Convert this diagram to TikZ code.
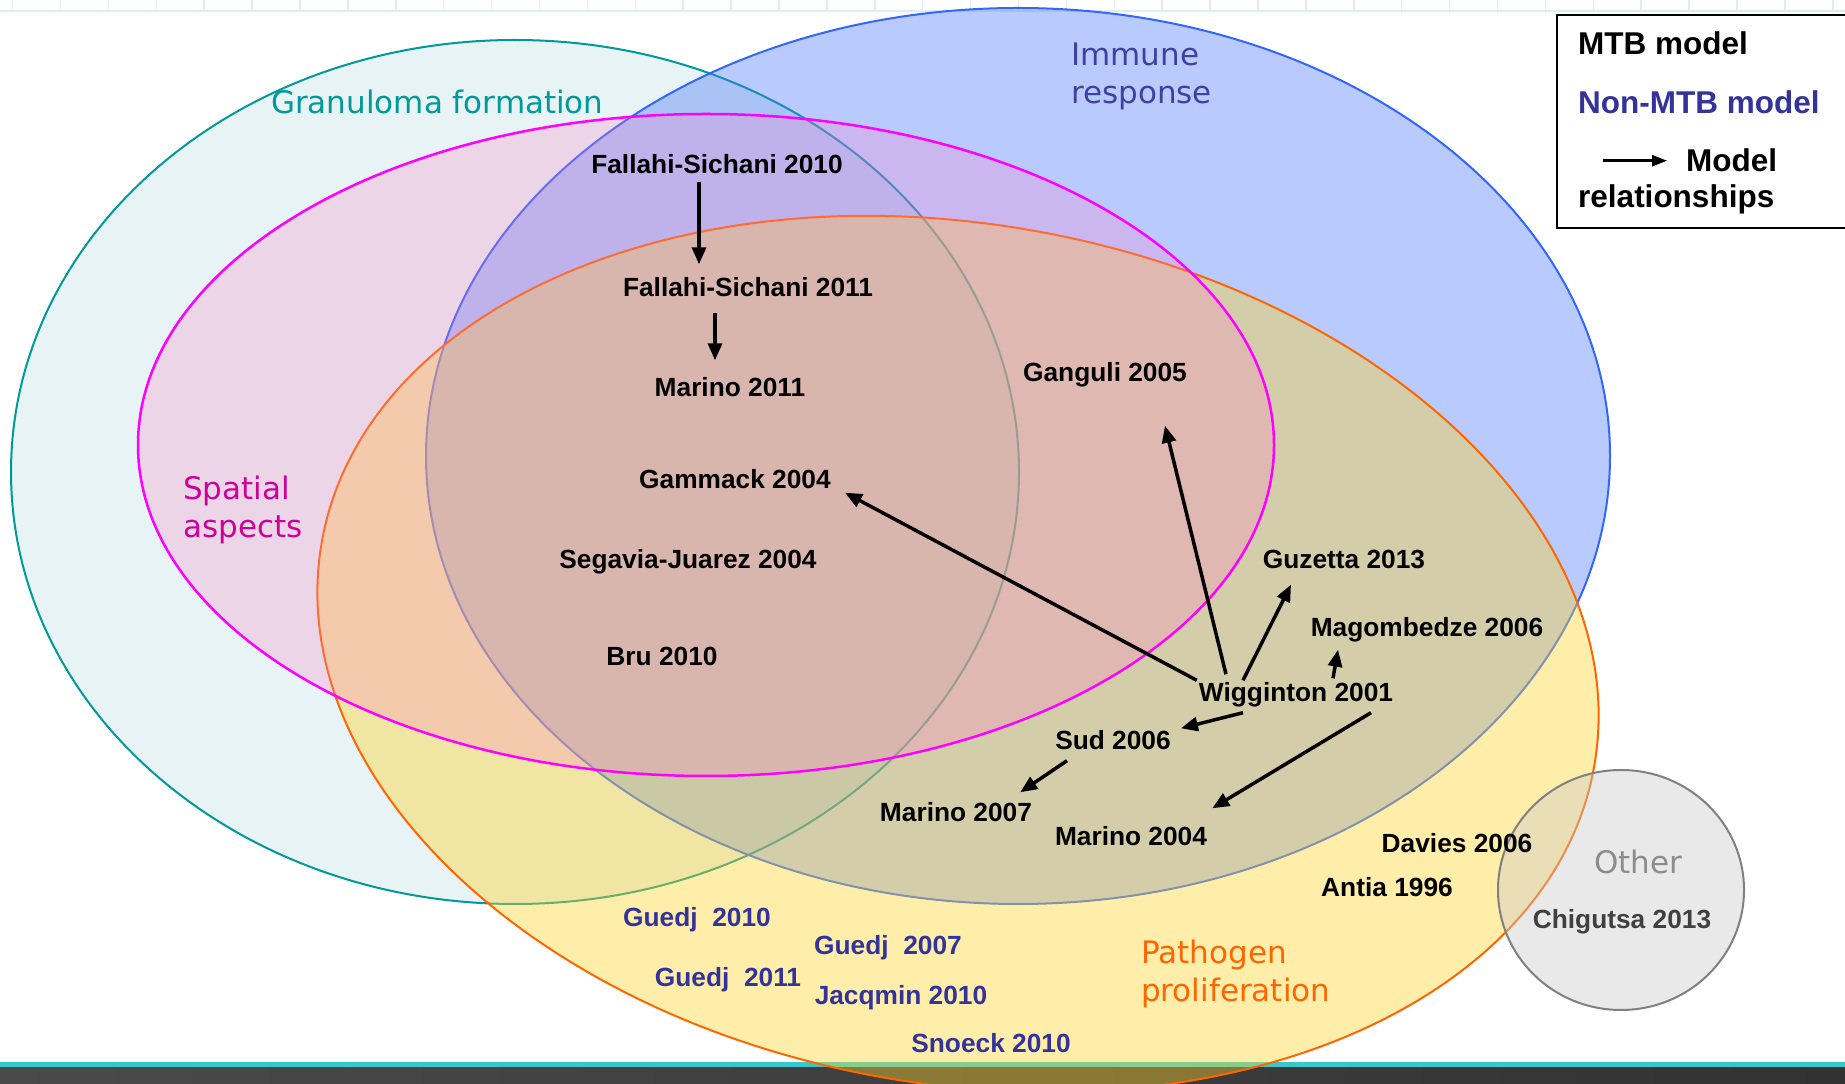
\documentclass[tikz,border=0pt]{standalone}
\usepackage{fontspec}
\setmainfont{Liberation Sans}
\newfontfamily\setfont{DejaVu Sans}
\usetikzlibrary{arrows.meta}

\definecolor{granline}{RGB}{0,153,153}
\definecolor{granfill}{RGB}{231,243,244}
\definecolor{immline}{RGB}{51,102,255}
\definecolor{immfill}{RGB}{68,116,252}
\definecolor{immtext}{RGB}{64,64,160}
\definecolor{spaline}{RGB}{255,0,255}
\definecolor{spafill}{RGB}{255,128,200}
\definecolor{spatext}{RGB}{204,0,153}
\definecolor{patline}{RGB}{255,102,0}
\definecolor{patfill}{RGB}{255,210,43}
\definecolor{othline}{RGB}{128,128,128}
\definecolor{othfill}{RGB}{200,200,200}
\definecolor{othtext}{RGB}{140,140,140}
\definecolor{chigtext}{RGB}{64,64,64}
\definecolor{nonmtb}{RGB}{51,51,153}
\definecolor{gridline}{RGB}{222,238,236}
\definecolor{barteal}{RGB}{56,200,204}
\definecolor{bardark}{RGB}{74,74,74}
\definecolor{bardarker}{RGB}{50,50,50}

\tikzset{
  % outline shared by every set
  setline/.style = {
    line width = 2pt
  },
  granuloma/.style = {
    setline,
    draw = granline,
    fill = granfill
  },
  immune/.style = {
    setline,
    draw = immline,
    fill = immfill,
    fill opacity = 0.375
  },
  pathogen/.style = {
    setline,
    draw = patline,
    fill = patfill,
    fill opacity = 0.4
  },
  spatial/.style = {
    setline,
    draw = spaline,
    line width = 2.5pt,
    fill = spafill,
    fill opacity = 0.26
  },
  other/.style = {
    setline,
    draw = othline,
    fill = othfill,
    fill opacity = 0.4
  }
}
\tikzset {
  % name of a set (anchored on the baseline of its last line)
  setlabel/.style = {
    font = \setfont\fontsize{31}{38}\selectfont,
    align = left,
    anchor = base west,
    inner sep = 0
  },
  % one published model
  model/.style = {
    font = \bfseries\fontsize{26.3}{30}\selectfont,
    text height = 19pt,
    text depth = 6pt,
    inner sep = 2pt
  },
  mtb/.style = {
    model
  },
  nmtb/.style = {
    model,
    text = nonmtb
  },
  % model relationship
  rel/.style = {
    -{Triangle[length=17pt, width=14pt]},
    line width = 3.5pt
  },
  % legend
  keybox/.style = {
    draw = black,
    line width = 2.5pt
  },
  keytext/.style = {
    font = \bfseries\fontsize{31.5}{36}\selectfont,
    anchor = base west,
    inner sep = 0
  },
  keyarrow/.style = {
    -{Triangle[length=15pt, width=11pt]},
    line width = 2.5pt
  }
}

\begin{document}
\begin{tikzpicture}[x=1pt, y=1pt]
  \useasboundingbox (0,0) rectangle (1845,1084);

  \foreach \col in {0,...,38}
    \draw[gridline, line width=1.5pt] ({12.6+47.9*\col},1073) -- ({12.6+47.9*\col},1084);
  \draw[gridline, line width=1.5pt] (0,1073) -- (1845,1073);
  \fill[barteal] (0,16) rectangle (1845,22);
  \shade[left color=bardark, right color=bardarker] (0,0) rectangle (1845,16);

  \draw[granuloma] (515,612) ellipse [x radius=504pt, y radius=432pt];
  \draw[immune] (1018,628) ellipse [x radius=592pt, y radius=448pt];
  \draw[pathogen, rotate around={-10:(958,430)}] (958,430) ellipse [x radius=646pt, y radius=430pt];
  \draw[spatial] (706,639) ellipse [x radius=568pt, y radius=331pt];
  \draw[other] (1621,194) ellipse [x radius=123pt, y radius=120pt];

  \node[setlabel, text=granline] (granlabel) at (271,970) {Granuloma formation};
  \node[setlabel, text=immtext] (immlabel) at (1071,980) {Immune\\response};
  \node[setlabel, text=spatext] (spalabel) at (183,546) {Spatial\\aspects};
  \node[setlabel, text=patline] (patlabel) at (1141,82) {Pathogen\\proliferation};
  \node[setlabel, text=othtext, anchor=center] (othlabel) at (1638,222) {Other};

  \node[mtb] (fs10) at (717,917) {Fallahi-Sichani 2010};
  \node[mtb] (fs11) at (748,794) {Fallahi-Sichani 2011};
  \node[mtb] (mar11) at (730,694) {Marino 2011};
  \node[mtb] (gam) at (735,602) {Gammack 2004};
  \node[mtb] (seg) at (688,522) {Segavia-Juarez 2004};
  \node[mtb] (bru) at (662,425) {Bru 2010};
  \node[mtb] (gan) at (1105,709) {Ganguli 2005};
  \node[mtb] (guz) at (1344,522) {Guzetta 2013};
  \node[mtb] (mag) at (1427,454) {Magombedze 2006};
  \node[mtb] (wig) at (1296,389) {Wigginton 2001};
  \node[mtb] (sud) at (1113,341) {Sud 2006};
  \node[mtb] (mar07) at (956,269) {Marino 2007};
  \node[mtb] (mar04) at (1131,245) {Marino 2004};
  \node[mtb] (dav) at (1457,238) {Davies 2006};
  \node[mtb] (ant) at (1387,194) {Antia 1996};
  \node[mtb, text=chigtext] (chig) at (1622,162) {Chigutsa 2013};

  \node[nmtb] (gue10) at (697,164) {Guedj\ \ 2010};
  \node[nmtb] (gue07) at (888,136) {Guedj\ \ 2007};
  \node[nmtb] (gue11) at (728,104) {Guedj\ \ 2011};
  \node[nmtb] (jac) at (901,86) {Jacqmin 2010};
  \node[nmtb] (sno) at (991,38) {Snoeck 2010};

  \draw[rel] ([xshift=-18pt]fs10.south) -- ([xshift=-49pt, yshift=11pt]fs11.north);
  \draw[rel] ([xshift=-33pt, yshift=-8pt]fs11.south) -- ([xshift=-15pt, yshift=15pt]mar11.north);
  \draw[rel] (wig.north west) -- ([xshift=12pt, yshift=4pt]gam.south east);
  \draw[rel] ([xshift=-70pt, yshift=6pt]wig.north) -- ([xshift=60pt, yshift=-36pt]gan.south);
  \draw[rel] ([xshift=-53pt]wig.north) -- ([xshift=-53pt, yshift=-8pt]guz.south);
  \draw[rel] ([xshift=37pt, yshift=2pt]wig.north) -- ([xshift=-89pt, yshift=-5pt]mag.south);
  \draw[rel] ([xshift=-53pt, yshift=-3pt]wig.south) -- ([xshift=8pt]sud.north east);
  \draw[rel] ([xshift=75pt, yshift=-3pt]wig.south) -- ([xshift=3pt, yshift=16pt]mar04.north east);
  \draw[rel] ([xshift=-46pt, yshift=-3pt]sud.south) -- ([xshift=-14pt, yshift=8pt]mar07.north east);

  \draw[keybox] (1557,856) rectangle (1850,1069);
  \node[keytext] (keymtb) at (1578,1029) {MTB model};
  \node[keytext, text=nonmtb] (keynon) at (1578,970) {Non-MTB model};
  \node[keytext] (keymodel) at (1686,912) {Model};
  \node[keytext] (keyrel) at (1578,876) {relationships};
  \coordinate (keytail) at ([xshift=-83pt]keymodel.west);
  \draw[keyarrow] (keytail) -- ([xshift=-19pt]keymodel.west);
\end{tikzpicture}
\end{document}
